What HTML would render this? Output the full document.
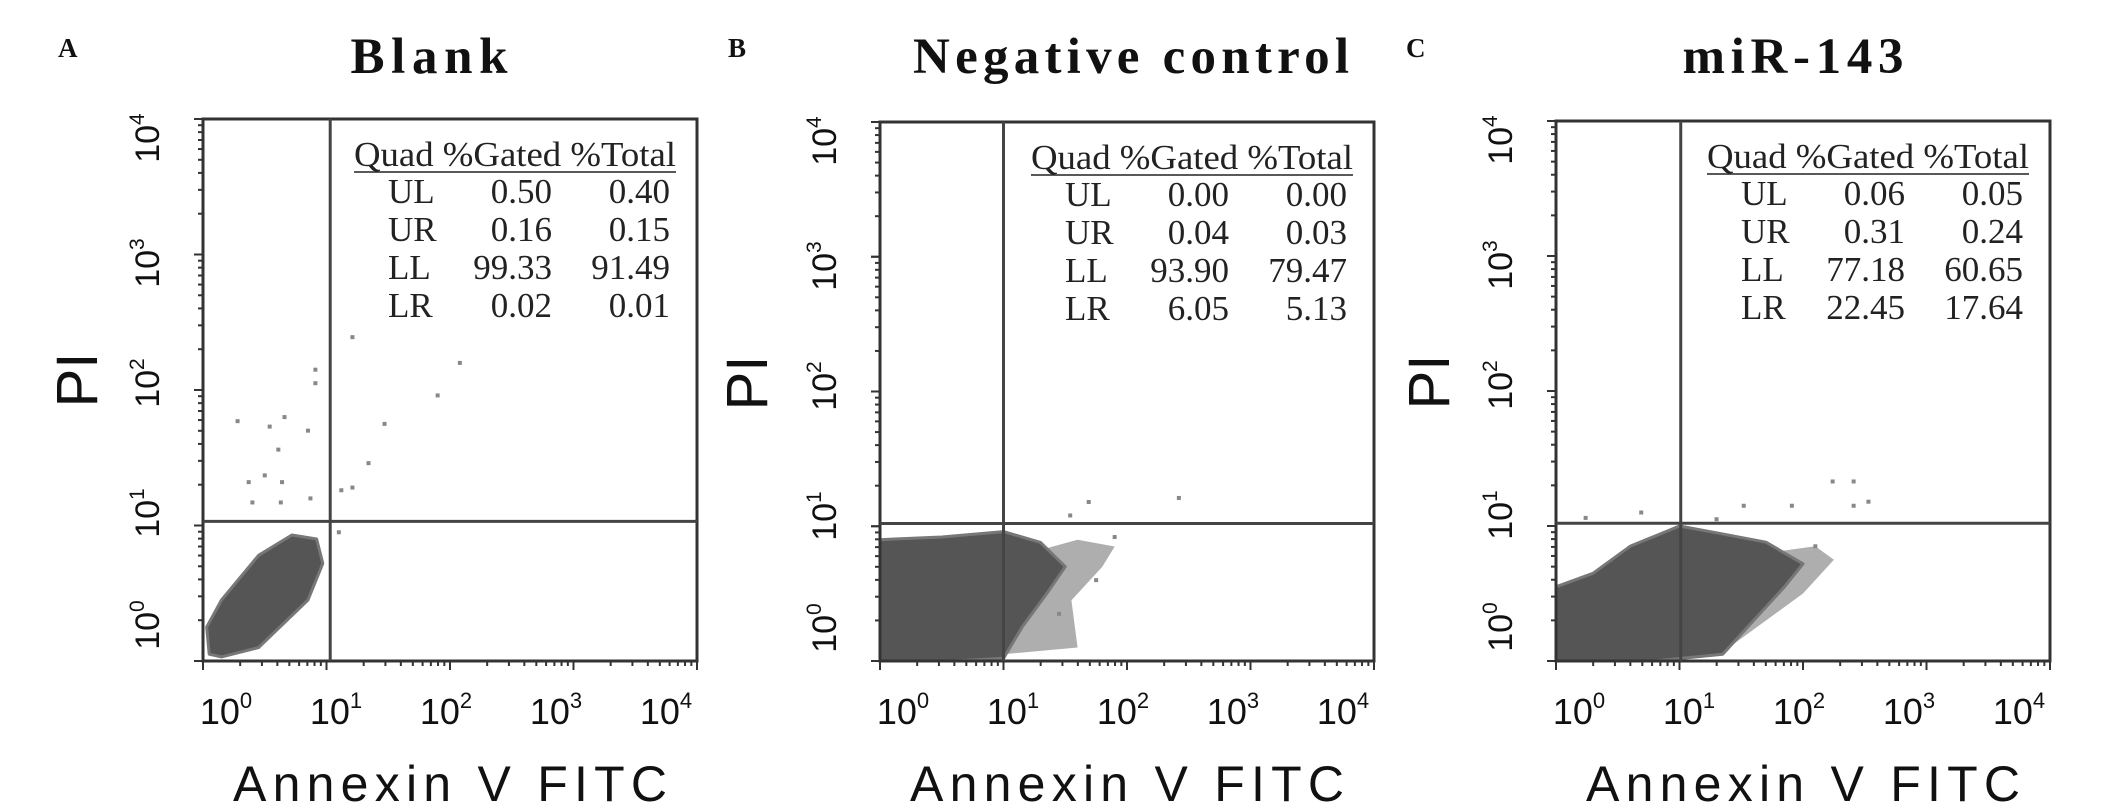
<!DOCTYPE html>
<html><head><meta charset="utf-8"><style>
html,body{margin:0;padding:0;background:#fff;}
svg{display:block;}
</style></head><body>
<svg id="fig" width="2126" height="809" viewBox="0 0 2126 809" xmlns="http://www.w3.org/2000/svg"></svg>
<script>
// ---- data ----
const panelLetters = ["A","B","C"];
const panelTitles = ["Blank","Negative control","miR-143"];
const quadLabels = ["UL","UR","LL","LR"];
const gatedA = ["0.50","0.16","99.33","0.02"];
const totalA = ["0.40","0.15","91.49","0.01"];
const gatedB = ["0.00","0.04","93.90","6.05"];
const totalB = ["0.00","0.03","79.47","5.13"];
const gatedC = ["0.06","0.31","77.18","22.45"];
const totalC = ["0.05","0.24","60.65","17.64"];
const xTickExp = [0,1,2,3,4];
const yTickExp = [0,1,2,3,4];
const gateX = [1.03,1.0,1.01]; // log10 Annexin gate
const gateY = [1.03,1.02,1.02]; // log10 PI gate
// main population outlines (log10 x, log10 y)
const cloudA = [[0.05,0.05],[0.15,0.03],[0.45,0.1],[0.85,0.45],[0.97,0.72],[0.92,0.9],[0.72,0.93],[0.45,0.78],[0.15,0.45],[0.03,0.25]];
const cloudB = [[0,0],[0.6,0],[1.0,0.02],[1.15,0.25],[1.35,0.5],[1.5,0.7],[1.3,0.88],[1.0,0.96],[0.5,0.92],[0,0.9]];
const cloudC = [[0,0],[0.8,0],[1.35,0.05],[1.6,0.3],[1.85,0.55],[2.0,0.72],[1.7,0.88],[1.3,0.95],[1.0,1.0],[0.6,0.85],[0.3,0.65],[0,0.55]];
// sparse tail populations
const tailB = [[1.0,0.05],[1.6,0.1],[1.55,0.45],[1.8,0.7],[1.9,0.85],[1.6,0.9],[1.2,0.8],[1.0,0.4]];
const tailC = [[1.4,0.1],[2.0,0.5],[2.25,0.75],[2.1,0.85],[1.7,0.8],[1.5,0.4]];
// outlier events
const outA_x = [1.21,2.08,1.9,1.47,1.34,1.21,0.91,0.91,0.28,0.54,0.66,0.85,0.61,0.37,0.5,0.64,0.4,0.63,0.87,1.12,1.1];
const outA_y = [2.39,2.2,1.96,1.75,1.46,1.28,2.15,2.05,1.77,1.73,1.8,1.7,1.56,1.32,1.37,1.32,1.17,1.17,1.2,1.26,0.95];
const outB_x = [2.42,1.69,1.54,1.9,1.75,1.45];
const outB_y = [1.21,1.18,1.08,0.92,0.6,0.35];
const outC_x = [2.24,2.41,2.53,2.41,1.91,1.52,0.24,0.69,2.1,1.3];
const outC_y = [1.33,1.33,1.18,1.15,1.15,1.15,1.06,1.1,0.85,1.05];

const panels = [
  {x0:203,y0:119,h:542,letterX:58,titleX:429,titleLen:157,pi:76,gated:gatedA,total:totalA,cloud:cloudA,tail:null,ox:outA_x,oy:outA_y},
  {x0:880,y0:122,h:539,letterX:728,titleX:1131,titleLen:436,pi:746,gated:gatedB,total:totalB,cloud:cloudB,tail:tailB,ox:outB_x,oy:outB_y},
  {x0:1556,y0:121,h:540,letterX:1406,titleX:1793,titleLen:221,pi:1428,gated:gatedC,total:totalC,cloud:cloudC,tail:tailC,ox:outC_x,oy:outC_y}
];
const W = 494;
const NS = "http://www.w3.org/2000/svg";
const svg = document.getElementById("fig");
function mk(tag, attrs, parent, text){
  const e = document.createElementNS(NS, tag);
  for (const k in attrs) e.setAttribute(k, attrs[k]);
  if (text !== undefined) e.textContent = text;
  (parent||svg).appendChild(e);
  return e;
}
panels.forEach((p, i) => {
  const g = mk("g", {});
  
  
  const sx = v => p.x0 + v / 4 * W;
  const sy = v => p.y0 + p.h - v / 4 * p.h;
  const L = mk("text", {x:p.letterX, y:57, "font-family":"Liberation Serif, serif", "font-weight":"bold", "font-size":27, fill:"#111"}, g, panelLetters[i]);
  
  
  const T = mk("text", {x:p.titleX, y:73, "text-anchor":"middle", "font-family":"Liberation Serif, serif", "font-weight":"bold", "font-size":51, fill:"#111", textLength:p.titleLen, lengthAdjust:"spacing"}, g, panelTitles[i]);
  
  
  const poly = pts => pts.map(q => sx(q[0]).toFixed(1) + "," + sy(q[1]).toFixed(1)).join(" ");
  if (p.tail) {
    const t = mk("polygon", {points:poly(p.tail), fill:"#9a9a9a", opacity:0.8}, g);
    
    
  }
  const c = mk("polygon", {points:poly(p.cloud), fill:"#555", "stroke":"#777", "stroke-width":3, "stroke-linejoin":"round"}, g);
  
  
  p.ox.forEach((v, k) => {
    const d = mk("rect", {x:sx(v)-2, y:sy(p.oy[k])-2, width:4, height:4, fill:"#888"}, g);
    
    
  });
  const b = mk("rect", {x:p.x0, y:p.y0, width:W, height:p.h, fill:"none", stroke:"#333", "stroke-width":3}, g);
  
  
  const gv = mk("line", {x1:sx(gateX[i]), x2:sx(gateX[i]), y1:p.y0, y2:p.y0+p.h, stroke:"#444", "stroke-width":3}, g);
  
  
  const gh = mk("line", {x1:p.x0, x2:p.x0+W, y1:sy(gateY[i]), y2:sy(gateY[i]), stroke:"#444", "stroke-width":3}, g);
  
  
  for (let d = 0; d < 4; d++) for (let m = 1; m <= 10; m++) {
    const lv = d + Math.log10(m);
    const len = (m === 1 || m === 10) ? 9 : 5;
    const ty = mk("line", {x1:p.x0-len, x2:p.x0, y1:sy(lv), y2:sy(lv), stroke:"#333", "stroke-width":2}, g);
    
    
    const tx = mk("line", {x1:sx(lv), x2:sx(lv), y1:p.y0+p.h, y2:p.y0+p.h+len, stroke:"#333", "stroke-width":2}, g);
    
    
  }
  xTickExp.forEach(e => {
    const cx = p.x0 + 23 + e * 110;
    const t = mk("text", {x:cx, y:p.y0 + p.h + 63, "text-anchor":"middle", "font-family":"Liberation Sans, sans-serif", "font-size":36, fill:"#111"}, g);
    
    
    mk("tspan", {}, t, "10");
    mk("tspan", {dy:-16, "font-size":22}, t, String(e));
  });
  const yPos = [506, 394, 264, 144, 19];
  yTickExp.forEach(e => {
    const cy = p.y0 + yPos[e];
    const t = mk("text", {x:0, y:0, "text-anchor":"middle", "font-family":"Liberation Sans, sans-serif", "font-size":34, fill:"#111", transform:`translate(${p.x0-44},${cy}) rotate(-90)`}, g);
    
    
    mk("tspan", {}, t, "10");
    mk("tspan", {dy:-15, "font-size":21}, t, String(e));
  });
  const yl = mk("text", {x:0, y:0, "text-anchor":"middle", "font-family":"Liberation Sans, sans-serif", "font-size":58, fill:"#111", transform:`translate(${p.pi+21},${p.y0+261}) rotate(-90)`}, g, "PI");
  
  
  const xl = mk("text", {x:p.x0+247, y:801, "text-anchor":"middle", "font-family":"Liberation Sans, sans-serif", "font-size":50, fill:"#111", textLength:434, lengthAdjust:"spacing"}, g, "Annexin V FITC");
  
  
  const tg = mk("g", {"font-family":"Liberation Serif, serif", "font-size":35, fill:"#222"}, g);
  
  
  const hd = mk("text", {x:p.x0+151, y:p.y0+47, textLength:322, lengthAdjust:"spacingAndGlyphs"}, tg, "Quad %Gated %Total");
  
  
  const ul = mk("line", {x1:p.x0+151, x2:p.x0+473, y1:p.y0+53, y2:p.y0+53, stroke:"#222", "stroke-width":1.5}, tg);
  
  
  quadLabels.forEach((q, r) => {
    const by = p.y0 + 84 + r * 38;
    const a = mk("text", {x:p.x0+185, y:by}, tg, q);
    
    
    const b2 = mk("text", {x:p.x0+349, y:by, "text-anchor":"end"}, tg, p.gated[r]);
    
    
    const c2 = mk("text", {x:p.x0+467, y:by, "text-anchor":"end"}, tg, p.total[r]);
    
    
  });
});
</script>
</body></html>
